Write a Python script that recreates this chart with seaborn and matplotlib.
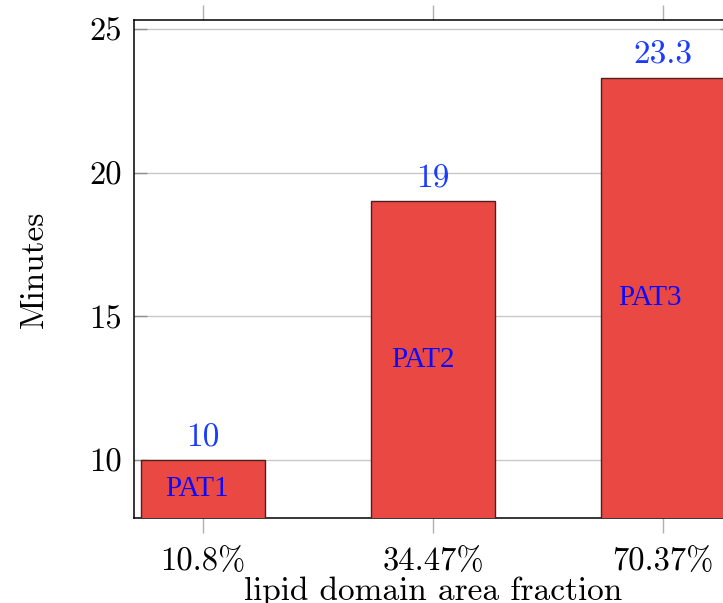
import matplotlib
matplotlib.use("Agg")
import matplotlib.pyplot as plt
import seaborn as sns
import pandas as pd

categories = ["10.8%", "34.47%", "70.37%"]
minutes = [10, 19, 23.3]
value_labels = ["10", "19", "23.3"]
patient_labels = ["PAT1", "PAT2", "PAT3"]
yticks = [10, 15, 20, 25]

sns.set_theme(style="white")
plt.rcParams["font.family"] = ["cmr10", "DejaVu Serif"]
plt.rcParams["mathtext.fontset"] = "cm"
plt.rcParams["axes.formatter.use_mathtext"] = True
plt.rcParams["text.color"] = "black"
plt.rcParams["axes.labelcolor"] = "black"
plt.rcParams["xtick.labelcolor"] = "black"
plt.rcParams["ytick.labelcolor"] = "black"

df = pd.DataFrame({"fraction": categories, "minutes": minutes})

fig = plt.figure(figsize=(7.23, 6.03), dpi=100)
ax = fig.add_axes([134 / 723, 1 - 518 / 603, (732 - 134) / 723, (518 - 20) / 603])

sns.barplot(data=df, x="fraction", y="minutes", ax=ax, color="#EA4943",
            saturation=1, width=0.535, edgecolor="#4a2020", linewidth=1.0, zorder=3)

ymin, ymax = 8.0, 25.3
ax.set_ylim(ymin, ymax)
ax.set_xlim(-0.3, 2.3)
ax.set_yticks(yticks)
ax.set_yticklabels([str(t) for t in yticks])
ax.set_xticks(range(len(categories)))
ax.set_xticklabels(categories)

ax.grid(axis="y", color="#c8c8c8", linewidth=1.0, zorder=0)
ax.grid(axis="x", visible=False)
ax.set_axisbelow(True)

ax.tick_params(axis="x", direction="out", length=11, width=1, color="#b0b0b0",
               top=True, bottom=True, labelsize=23.5, pad=10, labelcolor="black")
ax.tick_params(axis="y", direction="in", length=9, width=1, color="#909090",
               left=True, right=True, labelsize=23.5, pad=9, labelcolor="black")
for s in ax.spines.values():
    s.set_color("black")
    s.set_linewidth(1.1)

ax.set_xlabel("lipid domain area fraction", fontsize=24, labelpad=0, color="black")
ax.set_ylabel("Minutes", fontsize=24, labelpad=29, color="black")

offsets = [-0.025, -0.045, -0.055]
for i, (v, vl, pl) in enumerate(zip(minutes, value_labels, patient_labels)):
    ax.annotate(vl, xy=(i, v), xytext=(0, 6), textcoords="offset points",
                ha="center", va="bottom", fontsize=24, color="#1a3cff")
    ax.text(i + offsets[i], (ymin + v) / 2, pl, ha="center", va="center",
            fontsize=21, color="#0a0aff", family=["Liberation Serif", "DejaVu Serif"])

fig.savefig("out.png", dpi=100)
